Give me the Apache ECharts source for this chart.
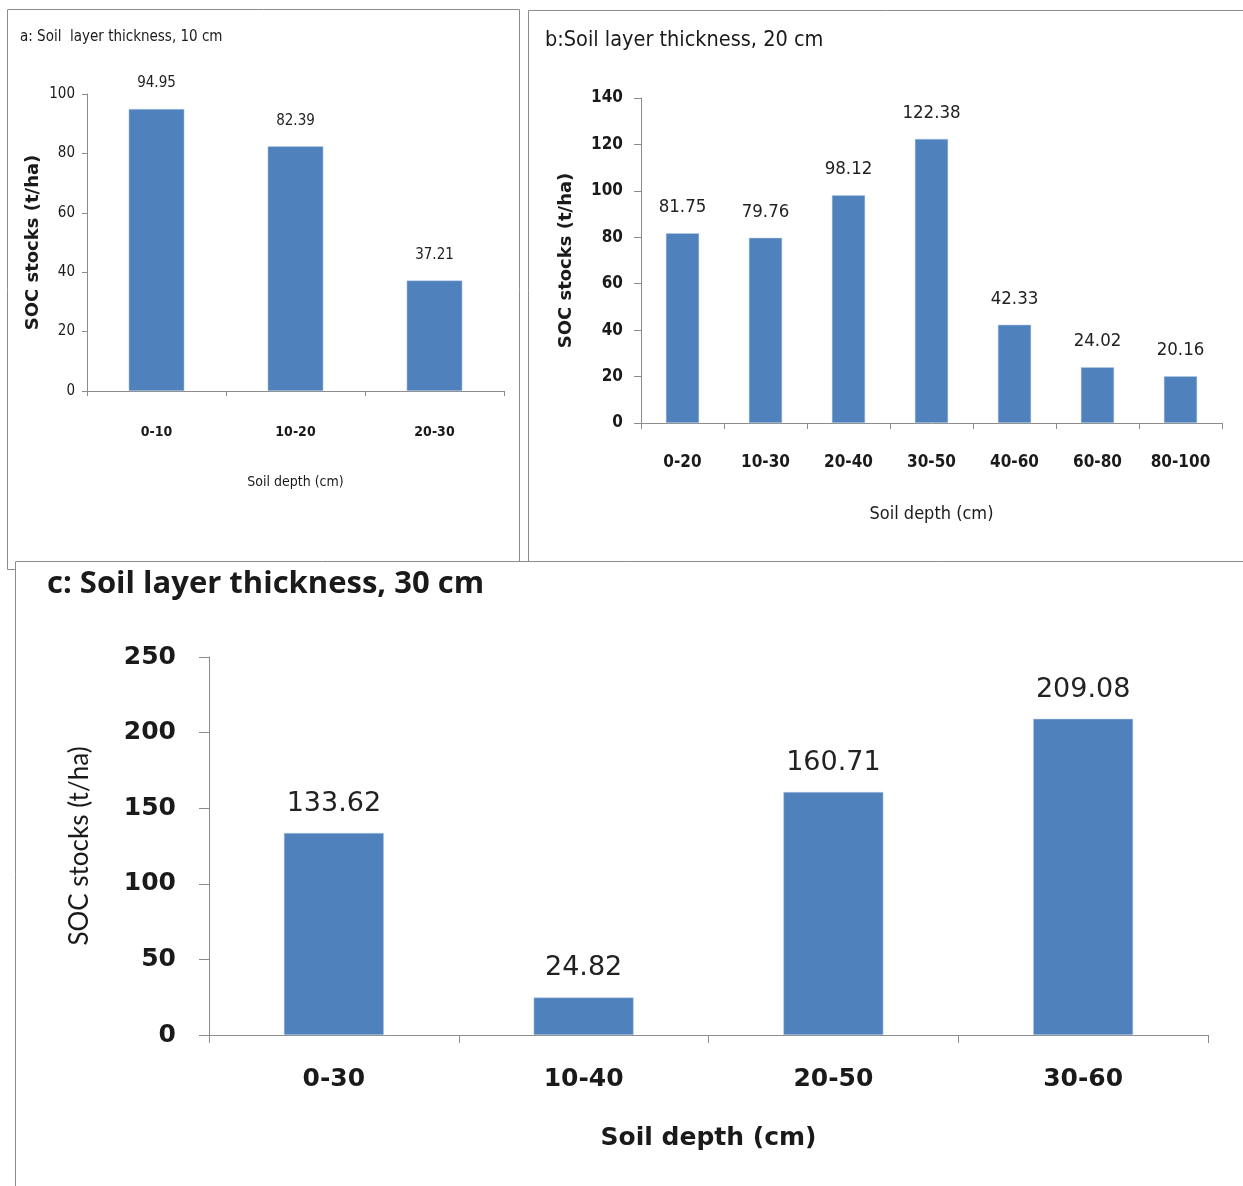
<!DOCTYPE html>
<html><head><meta charset="utf-8">
<script src="https://cdn.jsdelivr.net/npm/echarts@6/dist/echarts.min.js"></script>
<style>html,body{margin:0;padding:0;background:#fff}#c{width:1243px;height:1186px}</style>
</head><body><div id="c"></div>
<script>
var catsA = ['0-10','10-20','20-30'];
var valsA = [94.95, 82.39, 37.21];
var catsB = ['0-20','10-30','20-40','30-50','40-60','60-80','80-100'];
var valsB = [81.75, 79.76, 98.12, 122.38, 42.33, 24.02, 20.16];
var catsC = ['0-30','10-40','20-50','30-60'];
var valsC = [133.62, 24.82, 160.71, 209.08];
var titleA = 'a: Soil  layer thickness, 10 cm';
var titleB = 'b:Soil layer thickness, 20 cm';
var titleC = 'c: Soil layer thickness, 30 cm';
var yName = 'SOC stocks (t/ha)';
var xName = 'Soil depth (cm)';

var NARROW = "'Liberation Sans Narrow','DejaVu Sans Condensed',sans-serif";
var WIDE = "'DejaVu Sans',Verdana,sans-serif";
var HUM = "Lato,'Open Sans',sans-serif";
var OPEN = "'Open Sans',Lato,sans-serif";
var BAR = '#4F81BD';
var AX = '#8c8c8c';
var TXT = '#1a1a1a';

function xAxis(gi, cats, font, fs, fw, margin, nameFs, nameFont, nameFw, nameGap, tickLen) {
  return {type:'category', gridIndex:gi, data:cats, boundaryGap:true,
    axisLine:{lineStyle:{color:AX}}, axisTick:{show:true, length:tickLen, lineStyle:{color:AX}, alignWithLabel:false},
    axisLabel:{interval:0, fontFamily:font, fontSize:fs, fontWeight:fw, color:TXT, margin:margin},
    name:xName, nameLocation:'middle', nameGap:nameGap,
    nameTextStyle:{fontFamily:nameFont, fontSize:nameFs, fontWeight:nameFw, color:TXT, verticalAlign:'top'}};
}
function yAxis(gi, max, interval, font, fs, fw, margin, nameFs, nameFont, nameFw, nameGap, tickLen) {
  return {type:'value', gridIndex:gi, min:0, max:max, interval:interval,
    axisLine:{show:true, lineStyle:{color:AX}}, axisTick:{show:true, length:tickLen, lineStyle:{color:AX}},
    splitLine:{show:false},
    axisLabel:{fontFamily:font, fontSize:fs, fontWeight:fw, color:TXT, margin:margin},
    name:yName, nameLocation:'middle', nameGap:nameGap, nameRotate:90,
    nameTextStyle:{fontFamily:nameFont, fontSize:nameFs, fontWeight:nameFw, color:TXT}};
}
function bar(gi, vals, font, fs, dist) {
  return {type:'bar', xAxisIndex:gi, yAxisIndex:gi, data:vals, barWidth:'40%',
    itemStyle:{color:BAR, borderColor:'#b9cce4', borderWidth:0.5},
    label:{show:true, position:'top', distance:dist, fontFamily:font, fontSize:fs, color:'#222',
      formatter:function(p){return p.value.toFixed(2);}},
    silent:true, animation:false};
}

var chart = echarts.init(document.getElementById('c'), null, {renderer:'canvas'});
chart.setOption({
  animation:false,
  backgroundColor:'#fff',
  grid:[
    {left:87, top:94, width:417, height:297},
    {left:641, top:98, width:581, height:325},
    {left:209, top:657, width:999, height:378}
  ],
  xAxis:[
    xAxis(0, catsA, NARROW, 14, 'bold', 34, 14, NARROW, 'normal', 84, 5),
    xAxis(1, catsB, NARROW, 17, 'bold', 31, 18, NARROW, 'normal', 82, 6),
    xAxis(2, catsC, WIDE, 25, 'bold', 32, 25, WIDE, 'bold', 91, 8)
  ],
  yAxis:[
    yAxis(0, 100, 20, NARROW, 15, 'normal', 12, 18, WIDE, 'bold', 45, 5),
    yAxis(1, 140, 20, NARROW, 17, 'bold', 18, 18, WIDE, 'bold', 66, 7),
    yAxis(2, 250, 50, WIDE, 25, 'bold', 33, 26, HUM, 'normal', 116, 10)
  ],
  series:[
    bar(0, valsA, NARROW, 15, 18),
    bar(1, valsB, NARROW, 18.5, 16.5),
    bar(2, valsC, WIDE, 27, 15.5)
  ],
  graphic:[
    {type:'rect', z:-10, shape:{x:7.5, y:9.5, width:512, height:560}, style:{fill:'#fff', stroke:AX, lineWidth:1}},
    {type:'rect', z:-10, shape:{x:528.5, y:10.5, width:730, height:560}, style:{fill:'#fff', stroke:AX, lineWidth:1}},
    {type:'rect', z:-9, shape:{x:15.5, y:561.5, width:1240, height:640}, style:{fill:'#fff', stroke:AX, lineWidth:1}},
    {type:'text', left:20, top:30, style:{text:titleA, fontFamily:NARROW, fontSize:15, fill:TXT}},
    {type:'text', left:545, top:29, style:{text:titleB, fontFamily:NARROW, fontSize:21.5, fill:TXT}},
    {type:'text', left:47, top:569, style:{text:titleC, fontFamily:OPEN, fontSize:31, fontWeight:'bold', fill:TXT}}
  ]
});
</script></body></html>
